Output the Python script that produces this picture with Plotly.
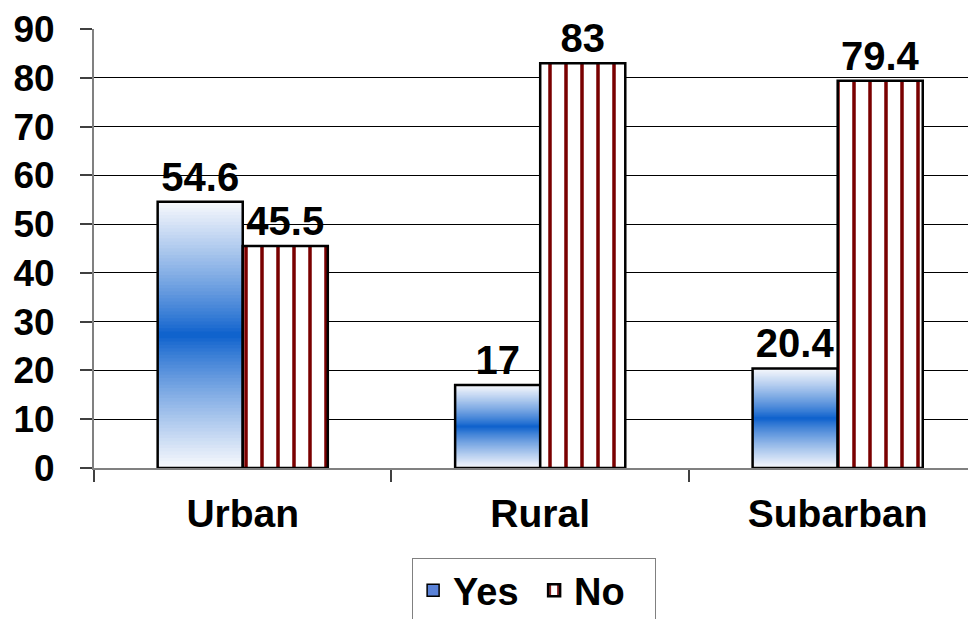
import plotly.graph_objects as go

categories = ["Urban", "Rural", "Subarban"]
yes_values = [54.6, 17, 20.4]
no_values = [45.5, 83, 79.4]
yes_labels = ["54.6", "17", "20.4"]
no_labels = ["45.5", "83", "79.4"]
y_ticks = [0, 10, 20, 30, 40, 50, 60, 70, 80, 90]

BAR_W = 0.286
FONT = dict(family="Liberation Sans, Arial, sans-serif", color="black", weight="bold")

blue = (10, 95, 204)
white = (248, 249, 253)


def grad_color(t):
    d = abs(t - 0.5) * 2.0
    m = d ** 0.85
    r = [round(blue[k] + (white[k] - blue[k]) * m) for k in range(3)]
    return f"rgb({r[0]},{r[1]},{r[2]})"


fig = go.Figure()

# gradient of the "Yes" bars: nested bars from the tallest down, each from 0
N = 80
for i in range(N):
    frac = (N - i) / N
    c = grad_color((N - i - 0.5) / N)
    fig.add_trace(go.Bar(
        x=categories,
        y=[v * frac for v in yes_values],
        width=BAR_W, offset=-BAR_W,
        marker=dict(color=c, line=dict(width=0)),
        showlegend=False, hoverinfo="skip",
    ))

# outline + labels of "Yes" bars
fig.add_trace(go.Bar(
    x=categories, y=yes_values, width=BAR_W, offset=-BAR_W,
    marker=dict(color="rgba(0,0,0,0)", line=dict(color="black", width=2.5)),
    text=yes_labels, textposition="outside", constraintext="none",
    textfont=dict(size=40, **FONT), cliponaxis=False,
    showlegend=False,
))

# legend entry for "Yes"
fig.add_trace(go.Bar(
    x=categories, y=[None, None, None], name="Yes",
    marker=dict(color="#5a82d8", line=dict(color="black", width=1.5)),
))

# "No" bars with vertical stripes
fig.add_trace(go.Bar(
    x=categories, y=no_values, name="No", width=BAR_W, offset=0,
    marker=dict(color="white", line=dict(color="black", width=2.5),
                pattern=dict(shape="|", fgcolor="#7a0000", bgcolor="white",
                             fgopacity=1, fillmode="replace",
                             size=16, solidity=0.22)),
    text=no_labels, textposition="outside", constraintext="none",
    textfont=dict(size=40, **FONT), cliponaxis=False,
))

fig.update_layout(
    width=968, height=611,
    margin=dict(l=86, r=0, t=21, b=151, autoexpand=False),
    barmode="overlay",
    plot_bgcolor="white", paper_bgcolor="white",
    font=dict(size=36, **FONT),
    legend=dict(orientation="h", x=0.499, xanchor="center", y=-0.205, yanchor="top",
                bordercolor="#808080", borderwidth=1, bgcolor="white",
                font=dict(size=38, **FONT), traceorder="normal",
                entrywidth=76, entrywidthmode="pixels"),
)

fig.update_xaxes(
    type="category", categoryorder="array", categoryarray=categories,
    range=[-0.5, 2.465], tickson="boundaries", ticks="outside", ticklen=12,
    tickcolor="#404040", tickwidth=1.5, showline=True, linecolor="#808080", linewidth=2,
    ticklabelstandoff=10, tickfont=dict(size=39, **FONT), showgrid=False,
    automargin=False,
)

fig.update_yaxes(
    range=[0, 90], tickvals=y_ticks, ticks="outside", ticklen=12,
    tickcolor="#404040", tickwidth=1.5, showline=True, linecolor="#808080", linewidth=2,
    showgrid=True, gridcolor="black", gridwidth=1, zeroline=False,
    ticklabelstandoff=18, tickfont=dict(size=37, **FONT), automargin=False,
)

fig.write_html("out.html")
